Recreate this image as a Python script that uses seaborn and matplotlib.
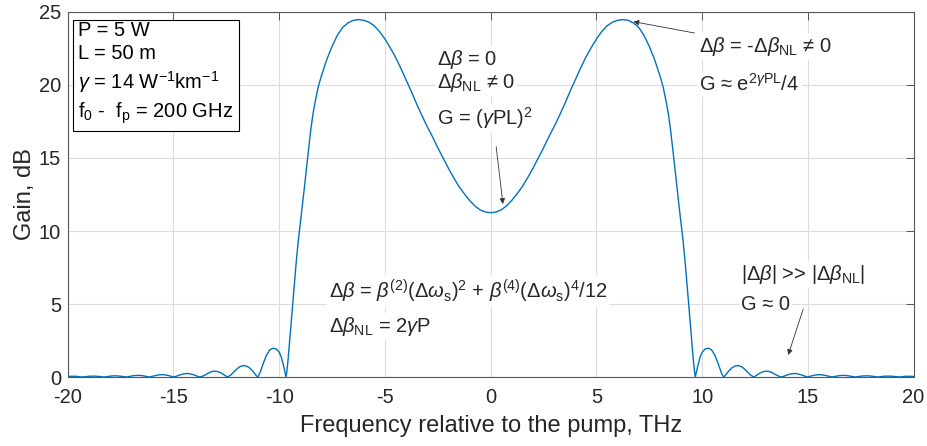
import matplotlib
matplotlib.use('Agg')
import matplotlib.pyplot as plt
import seaborn as sns
import pandas as pd

# Gain curve: negative-frequency side (THz, dB)
freq_neg = [
    -20.0, -19.9, -19.8, -19.68, -19.56, -19.44, -19.32,
    -19.2, -19.07, -18.95, -18.82, -18.69, -18.56, -18.43, -18.3, -18.18, -18.05,
    -17.93, -17.8, -17.66, -17.52, -17.38, -17.23, -17.1, -16.97, -16.83, -16.7,
    -16.56, -16.42, -16.29, -16.15, -16.02, -15.87, -15.72, -15.57, -15.42, -15.27,
    -15.13, -14.98, -14.85, -14.7, -14.53, -14.38, -14.23, -14.08, -13.92, -13.77,
    -13.65, -13.5, -13.35, -13.2, -13.05, -12.9, -12.75, -12.6, -12.45, -12.3,
    -12.15, -12.0, -11.85, -11.7, -11.55, -11.4, -11.25, -11.1, -11.02, -10.97,
    -10.88, -10.75, -10.6, -10.45, -10.3, -10.15, -10.0, -9.9, -9.8, -9.72,
    -9.68, -9.64, -9.58, -9.5, -9.4, -9.3, -9.2, -9.1, -9.0, -8.9,
    -8.8, -8.7, -8.6, -8.5, -8.4, -8.3, -8.15, -8.0, -7.75, -7.5,
    -7.25, -7.0, -6.75, -6.5, -6.25, -6.0, -5.75, -5.5, -5.25, -5.0,
    -4.75, -4.5, -4.25, -4.0, -3.75, -3.5, -3.25, -3.0, -2.75, -2.5,
    -2.25, -2.0, -1.75, -1.5, -1.25, -1.0, -0.75, -0.5, -0.25,
]
gain_neg = [
    0.035, 0.045, 0.05, 0.05, 0.04, 0.02, 0.0,
    0.02, 0.04, 0.055, 0.06, 0.058, 0.045, 0.025, 0.0, 0.02, 0.05,
    0.07, 0.08, 0.075, 0.06, 0.03, 0.0, 0.03, 0.07, 0.1, 0.11,
    0.105, 0.08, 0.04, 0.0, 0.04, 0.09, 0.14, 0.16, 0.15, 0.11,
    0.06, 0.0, 0.06, 0.14, 0.21, 0.24, 0.22, 0.17, 0.08, 0.0,
    0.04, 0.14, 0.27, 0.37, 0.40, 0.37, 0.28, 0.14, 0.0, 0.12,
    0.33, 0.55, 0.72, 0.78, 0.75, 0.62, 0.4, 0.12, 0.0, 0.1,
    0.4, 0.95, 1.5, 1.85, 1.97, 1.93, 1.7, 1.35, 0.8, 0.3,
    0.0, 0.35, 1.2, 2.6, 4.35, 6.1, 7.8, 9.3, 10.55, 11.8,
    13.1, 14.45, 15.75, 17.0, 18.05, 18.85, 19.9, 20.65, 21.75, 22.65,
    23.4, 23.95, 24.25, 24.43, 24.48, 24.43, 24.3, 24.05, 23.65, 23.15,
    22.55, 21.9, 21.15, 20.35, 19.55, 18.7, 17.9, 17.15, 16.45, 15.7,
    15.0, 14.3, 13.65, 13.05, 12.55, 12.1, 11.72, 11.45, 11.3,
]
# positive-frequency side (THz, dB)
freq_pos = [
    0.0, 0.25, 0.5, 0.75, 1.0, 1.25, 1.5, 1.75, 2.0, 2.25,
    2.5, 2.75, 3.0, 3.25, 3.5, 3.75, 4.0, 4.25, 4.5, 4.75,
    5.0, 5.25, 5.5, 5.75, 6.0, 6.25, 6.5, 6.75, 7.0, 7.25,
    7.5, 7.75, 8.0, 8.15, 8.3, 8.4, 8.5, 8.6, 8.7, 8.8,
    8.9, 9.0, 9.1, 9.2, 9.3, 9.4, 9.5, 9.58, 9.64, 9.68,
    9.72, 9.8, 9.9, 10.0, 10.15, 10.3, 10.45, 10.6, 10.75, 10.88,
    10.97, 11.02, 11.1, 11.25, 11.4, 11.55, 11.7, 11.85, 12.0, 12.15,
    12.3, 12.45, 12.6, 12.75, 12.9, 13.05, 13.2, 13.35, 13.5, 13.65,
    13.77, 13.92, 14.08, 14.23, 14.38, 14.53, 14.7, 14.85, 14.98, 15.13,
    15.27, 15.42, 15.57, 15.72, 15.87, 16.02, 16.15, 16.29, 16.42, 16.56,
    16.7, 16.83, 16.97, 17.1, 17.23, 17.38, 17.52, 17.66, 17.8, 17.93,
    18.05, 18.18, 18.3, 18.43, 18.56, 18.69, 18.82, 18.95, 19.07, 19.2,
    19.32, 19.44, 19.56, 19.68, 19.8, 19.9, 20.0,
]
gain_pos = [
    11.25, 11.3, 11.45, 11.72, 12.1, 12.55, 13.05, 13.65, 14.3, 15.0,
    15.7, 16.45, 17.15, 17.9, 18.7, 19.55, 20.35, 21.15, 21.9, 22.55,
    23.15, 23.65, 24.05, 24.3, 24.43, 24.48, 24.43, 24.25, 23.95, 23.4,
    22.65, 21.75, 20.65, 19.9, 18.85, 18.05, 17.0, 15.75, 14.45, 13.1,
    11.8, 10.55, 9.3, 7.8, 6.1, 4.35, 2.6, 1.2, 0.35, 0.0,
    0.3, 0.8, 1.35, 1.7, 1.93, 1.97, 1.85, 1.5, 0.95, 0.4,
    0.1, 0.0, 0.12, 0.4, 0.62, 0.75, 0.78, 0.72, 0.55, 0.33,
    0.12, 0.0, 0.14, 0.28, 0.37, 0.40, 0.37, 0.27, 0.14, 0.04,
    0.0, 0.08, 0.17, 0.22, 0.24, 0.21, 0.14, 0.06, 0.0, 0.06,
    0.11, 0.15, 0.16, 0.14, 0.09, 0.04, 0.0, 0.04, 0.08, 0.105,
    0.11, 0.1, 0.07, 0.03, 0.0, 0.03, 0.06, 0.075, 0.08, 0.07,
    0.05, 0.02, 0.0, 0.025, 0.045, 0.058, 0.06, 0.055, 0.04, 0.02,
    0.0, 0.02, 0.04, 0.05, 0.05, 0.045, 0.035,
]
x_ticks = [-20, -15, -10, -5, 0, 5, 10, 15, 20]
y_ticks = [0, 5, 10, 15, 20, 25]

sns.set_theme(style='white')
plt.rcParams['font.family'] = ['Liberation Sans', 'DejaVu Sans']
plt.rcParams['mathtext.fontset'] = 'custom'
plt.rcParams['mathtext.rm'] = 'Liberation Sans'
plt.rcParams['mathtext.it'] = 'Liberation Sans:italic'
plt.rcParams['mathtext.bf'] = 'Liberation Sans:bold'
plt.rcParams['axes.unicode_minus'] = False

dark = '#262626'
fig = plt.figure(figsize=(9.28, 4.46), dpi=100)
ax = fig.add_axes([0.073, 0.1547, 0.9115, 0.8184])

df = pd.DataFrame({'freq': freq_neg + freq_pos, 'gain': gain_neg + gain_pos})
sns.lineplot(data=df, x='freq', y='gain', ax=ax, color='#0072BD',
             linewidth=1.0, estimator=None, sort=False, legend=False)

ax.set_xlim(-20, 20)
ax.set_ylim(0, 25)
ax.set_xticks(x_ticks)
ax.set_yticks(y_ticks)
ax.grid(True, color='#dcdcdc', linewidth=0.8)
ax.set_axisbelow(True)
for sp in ax.spines.values():
    sp.set_color('#555555')
    sp.set_linewidth(0.8)
ax.tick_params(axis='both', direction='in', length=5.5, width=0.7,
               colors='#555555', labelcolor=dark, labelsize=14.5,
               top=True, right=True)
ax.tick_params(axis='x', pad=8)
ax.tick_params(axis='y', pad=4.8)
ax.set_xlabel('Frequency relative to the pump, THz', fontsize=17, color=dark, labelpad=6)
ax.set_ylabel('Gain, dB', fontsize=17, color=dark, labelpad=2)

fs = 14.5
wb = dict(facecolor='white', edgecolor='none', pad=1.5)
arrow_kw = dict(arrowstyle='-|>', color='#333333', lw=0.6,
                mutation_scale=8, shrinkA=0, shrinkB=0)

# parameter box
ax.text(-19.5, 24.4,
        'P = 5 W\nL = 50 m\n$\\gamma$ = 14 W$^{-1}$km$^{-1}$\nf$_0$ -  f$_{\\mathrm{p}}$ = 200 GHz',
        fontsize=fs, color='black', ha='left', va='top', linespacing=1.3,
        bbox=dict(boxstyle='square,pad=0.25', facecolor='white', edgecolor='black', linewidth=0.8),
        zorder=5)

# centre annotation
ax.text(-2.56, 21.37, r'$\Delta\beta$ = 0', fontsize=fs, ha='left', va='baseline', bbox=wb, zorder=5)
ax.text(-2.56, 19.79, r'$\Delta\beta_{\mathrm{NL}}$ ≠ 0', fontsize=fs, ha='left', va='baseline', bbox=wb, zorder=5)
ax.text(-2.56, 17.26, r'G = ($\gamma$PL)$^2$', fontsize=fs, ha='left', va='baseline', bbox=wb, zorder=5)
ax.annotate('', xy=(0.58, 11.85), xytext=(0.26, 15.77), arrowprops=arrow_kw, zorder=6)

# peak annotation
ax.text(9.87, 22.26, r'$\Delta\beta$ = -$\Delta\beta_{\mathrm{NL}}$ ≠ 0', fontsize=fs,
        ha='left', va='baseline', bbox=wb, zorder=5)
ax.text(9.87, 19.59, r'G ≈ e$^{2\gamma\mathrm{PL}}$/4', fontsize=fs,
        ha='left', va='baseline', bbox=wb, zorder=5)
ax.annotate('', xy=(6.75, 24.34), xytext=(9.64, 23.56), arrowprops=arrow_kw, zorder=6)

# phase mismatch definitions
ax.text(-7.66, 5.41,
        r'$\Delta\beta$ = $\beta^{(2)}$($\Delta\omega_{\mathrm{s}}$)$^2$ + $\beta^{(4)}$($\Delta\omega_{\mathrm{s}}$)$^4$/12',
        fontsize=fs, ha='left', va='baseline', bbox=wb, zorder=5)
ax.text(-7.66, 3.08, r'$\Delta\beta_{\mathrm{NL}}$ = 2$\gamma$P', fontsize=fs,
        ha='left', va='baseline', bbox=wb, zorder=5)

# far-off annotation
ax.text(11.85, 6.64, r'|$\Delta\beta$| >> |$\Delta\beta_{\mathrm{NL}}$|', fontsize=fs,
        ha='left', va='baseline', bbox=wb, zorder=5)
ax.text(11.85, 4.59, 'G ≈ 0', fontsize=fs, ha='left', va='baseline', bbox=wb, zorder=5)
ax.annotate('', xy=(14.07, 1.51), xytext=(14.78, 4.66), arrowprops=arrow_kw, zorder=6)

fig.savefig('out.png', dpi=100)
